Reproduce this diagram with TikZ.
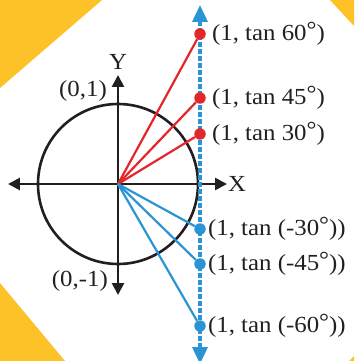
\documentclass[tikz,border=0pt]{standalone}
\usepackage{fontspec}
\setmainfont{Liberation Serif}[FakeStretch=1.08]
\usetikzlibrary{arrows.meta,positioning}
\definecolor{ink}{HTML}{231F20}
\definecolor{tanred}{HTML}{E2262A}
\definecolor{tanblue}{HTML}{2B94D4}
\definecolor{cornery}{HTML}{FDC228}
\newcommand{\dgr}{\raisebox{0.12em}{°}}
\tikzset{
  axisarr/.style={{Triangle[length=12pt,width=12pt]}-{Triangle[length=12pt,width=12pt]},
    line width=2.6pt,color=ink},
  unitcirc/.style={draw=ink,line width=2.6pt},
  tanline/.style={{Triangle[length=17pt,width=15pt]}-{Triangle[length=17pt,width=15pt]},
    line width=3.6pt,color=tanblue,dash pattern=on 4.5pt off 2.5pt},
  reddot/.style={circle,fill=tanred,inner sep=0pt,minimum size=11.5pt},
  bluedot/.style={circle,fill=tanblue,inner sep=0pt,minimum size=11.5pt},
  redray/.style={line width=2.2pt,color=tanred},
  blueray/.style={line width=2.2pt,color=tanblue},
  ptlabel/.style={font=\fontsize{23}{25}\selectfont,text=ink,inner sep=0pt},
  cornerfill/.style={fill=cornery,draw=none},
}

\begin{document}
\begin{tikzpicture}[x=1pt,y=1pt, node distance=0pt and 6pt]
  \useasboundingbox (-118,-177) rectangle (236,184);
  % yellow corners
  \fill[cornerfill] (-118,184) -- (-16,184) -- (-118,96) -- cycle;
  \fill[cornerfill] (212,184) -- (236,184) -- (236,158) -- cycle;
  \fill[cornerfill] (-118,-99) -- (-53,-177) -- (-118,-177) -- cycle;
  \fill[cornerfill] (231,-177) -- (236,-172) -- (236,-177) -- cycle;

  \coordinate (O) at (0,0);
  \coordinate (xl) at (-110,0);
  \coordinate (xr) at (109,0);
  \coordinate (yb) at (0,-111);
  \coordinate (yt) at (0,109);
  \coordinate (tb) at (82,-180);
  \coordinate (tt) at (82,179);

  \draw[unitcirc] (O) circle (80);
  \draw[axisarr] (xl) -- (xr);
  \draw[axisarr] (yb) -- (yt);
  \draw[tanline] (tb) -- (tt);

  \node[ptlabel] (xlab) at (119,0) {X};
  \node[ptlabel] (ylab) at (0,122) {Y};
  \node[ptlabel,anchor=east] (one) at (-11,93) {(0,1)};
  \node[ptlabel,anchor=east] (mone) at (-10,-97) {(0,-1)};

  \node[reddot] (p60) at (82,150) {};
  \node[reddot] (p45) at (82,86) {};
  \node[reddot] (p30) at (82,50) {};
  \node[bluedot] (m30) at (82,-45) {};
  \node[bluedot] (m45) at (82,-80) {};
  \node[bluedot] (m60) at (82,-142) {};

  \draw[redray] (O) -- (p60);
  \draw[redray] (O) -- (p45);
  \draw[redray] (O) -- (p30);
  \draw[blueray] (O) -- (m30);
  \draw[blueray] (O) -- (m45);
  \draw[blueray] (O) -- (m60);

  \node[ptlabel,right=of p60] (l60) {(1, tan 60\dgr)};
  \node[ptlabel,right=of p45] (l45) {(1, tan 45\dgr)};
  \node[ptlabel,right=of p30] (l30) {(1, tan 30\dgr)};
  \node[ptlabel,right=2pt of m30] (lm30) {(1, tan (-30\dgr))};
  \node[ptlabel,right=2pt of m45] (lm45) {(1, tan (-45\dgr))};
  \node[ptlabel,right=2pt of m60] (lm60) {(1, tan (-60\dgr))};
\end{tikzpicture}
\end{document}
